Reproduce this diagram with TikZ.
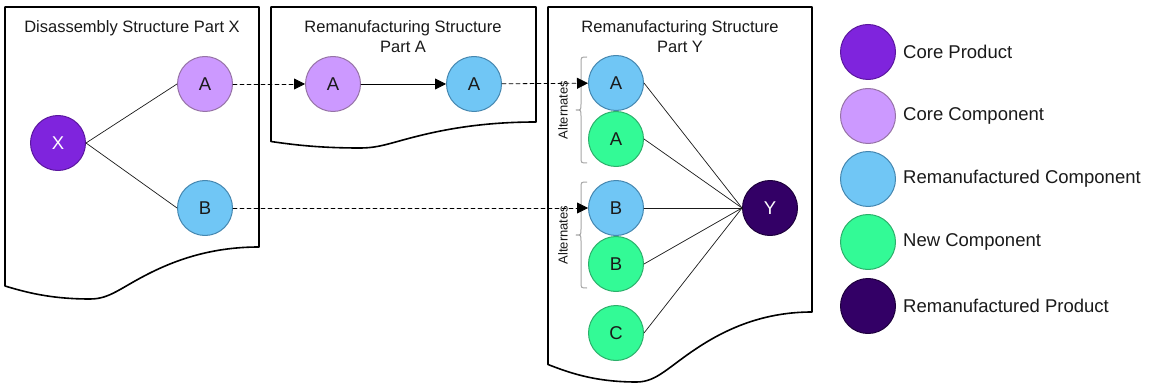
\documentclass[tikz,border=0pt]{standalone}
\usepackage{fontspec}
\setmainfont{Liberation Sans}
\usetikzlibrary{arrows.meta,positioning}

\definecolor{cpfill}{HTML}{7F24DD}
\definecolor{cpline}{HTML}{5B179F}
\definecolor{ccfill}{HTML}{CC99FF}
\definecolor{ccline}{HTML}{9673A6}
\definecolor{rcfill}{HTML}{70C6F5}
\definecolor{rcline}{HTML}{4587B0}
\definecolor{ncfill}{HTML}{33FA96}
\definecolor{ncline}{HTML}{2CB06B}
\definecolor{rpfill}{HTML}{330066}
\definecolor{rpline}{HTML}{1E003D}
\definecolor{ink}{HTML}{1A1A1A}

\begin{document}
\begin{tikzpicture}[x=1pt, y=-1pt, line join=round, line cap=round,
	>={Triangle[length=11pt, width=11pt]},
	bubble/.style={circle, minimum size=55pt, inner sep=0pt, line width=1pt, text=ink, font=\fontsize{18.5}{20}\selectfont},
	coreprod/.style={bubble, fill=cpfill, draw=cpline, text=white},
	corecomp/.style={bubble, fill=ccfill, draw=ccline},
	remancomp/.style={bubble, fill=rcfill, draw=rcline},
	newcomp/.style={bubble, fill=ncfill, draw=ncline},
	remanprod/.style={bubble, fill=rpfill, draw=rpline, text=white},
	docpage/.style={draw=black, fill=white, line width=1.6pt},
	heading/.style={text=ink, align=center, font=\fontsize{16.5}{20}\selectfont},
	legtext/.style={text=ink, inner sep=0pt, font=\fontsize{18.5}{20}\selectfont},
	link/.style={draw=ink, line width=0.7pt},
	feed/.style={->, draw=black, line width=0.8pt, dash pattern=on 4pt off 3pt},
	bracket/.style={draw=gray!70, line width=1pt, line cap=butt}]
	\useasboundingbox (0,0) rectangle (1158,390);

	% document pages
	\draw[docpage] (5,7) -- (259,7) -- (259,247) .. controls (215,247) and (180,258) .. (150,273)
		.. controls (120,288) and (110,299) .. (90,299) .. controls (50,299) and (25,292) .. (5,286) -- cycle;
	\draw[docpage] (271,7) -- (536,7) -- (536,122) .. controls (490,122) and (453.6,127.5) .. (422.3,135)
		.. controls (391,142.5) and (380.4,148) .. (359.8,148) .. controls (317.9,148) and (291.9,144.5) .. (271,141.5) -- cycle;
	\draw[docpage] (548,7) -- (812,7) -- (812,312) .. controls (766.3,312) and (729.9,326.7) .. (698.7,347)
		.. controls (667.6,367.3) and (657,382) .. (636.4,382) .. controls (594.7,382) and (568.9,372.6) .. (548,364.5) -- cycle;

	\node[heading] (t-x) at (132,28) {Disassembly Structure Part X};
	\node[heading] (t-a) at (403,37) {Remanufacturing Structure\\Part A};
	\node[heading] (t-y) at (680,37) {Remanufacturing Structure\\Part Y};

	% disassembly of X
	\node[coreprod] (px) at (58,143) {X};
	\node[corecomp] (pa) at (205,84) {A};
	\node[remancomp] (pb) at (205,208) {B};
	\draw[link] (px.east) -- (pa.west);
	\draw[link] (px.east) -- (pb.west);

	% remanufacturing of A
	\node[corecomp] (ra-core) at (333,84) {A};
	\node[remancomp] (ra-reman) at (474,84) {A};
	\draw[->, line width=0.8pt] (ra-core) -- (ra-reman);

	% remanufacturing of Y
	\node[remancomp] (ya) at (616,83) {A};
	\node[newcomp, below=0pt of ya] (ya-new) {A};
	\node[remancomp] (yb) at (616,208) {B};
	\node[newcomp, below=0pt of yb] (yb-new) {B};
	\node[newcomp] (yc) at (616,333) {C};
	\node[remanprod] (y) at (770,208) {Y};
	\foreach \n in {ya, ya-new, yb, yb-new, yc}
		\draw[link] (\n.east) -- (y.west);

	\foreach \ytop/\ymid/\ybot [count=\i] in {57/110/163, 182/235/288} {
		\draw[bracket] (587,\ytop) .. controls (581,\ytop) .. (581,\ytop+6) -- (581,\ymid-6)
			.. controls (581,\ymid) .. (576,\ymid) .. controls (581,\ymid) .. (581,\ymid+6)
			-- (581,\ybot-6) .. controls (581,\ybot) .. (587,\ybot);
		\node[rotate=90, text=ink, font=\fontsize{13}{14}\selectfont] (alt\i) at (563,\ymid) {Alternates};
	}

	\draw[feed] (pa) -- (ra-core);
	\draw[feed] (ra-reman) -- (ya);
	\draw[feed] (pb) -- (yb);

	% legend
	\foreach \kind/\name/\ypos [count=\i] in {coreprod/Core Product/52, corecomp/Core Component/116,
		remancomp/Remanufactured Component/179, newcomp/New Component/242, remanprod/Remanufactured Product/306} {
		\node[\kind] (lg\i) at (868,\ypos) {};
		\node[legtext, right=7pt of lg\i] (lt\i) {\name};
	}
\end{tikzpicture}
\end{document}
